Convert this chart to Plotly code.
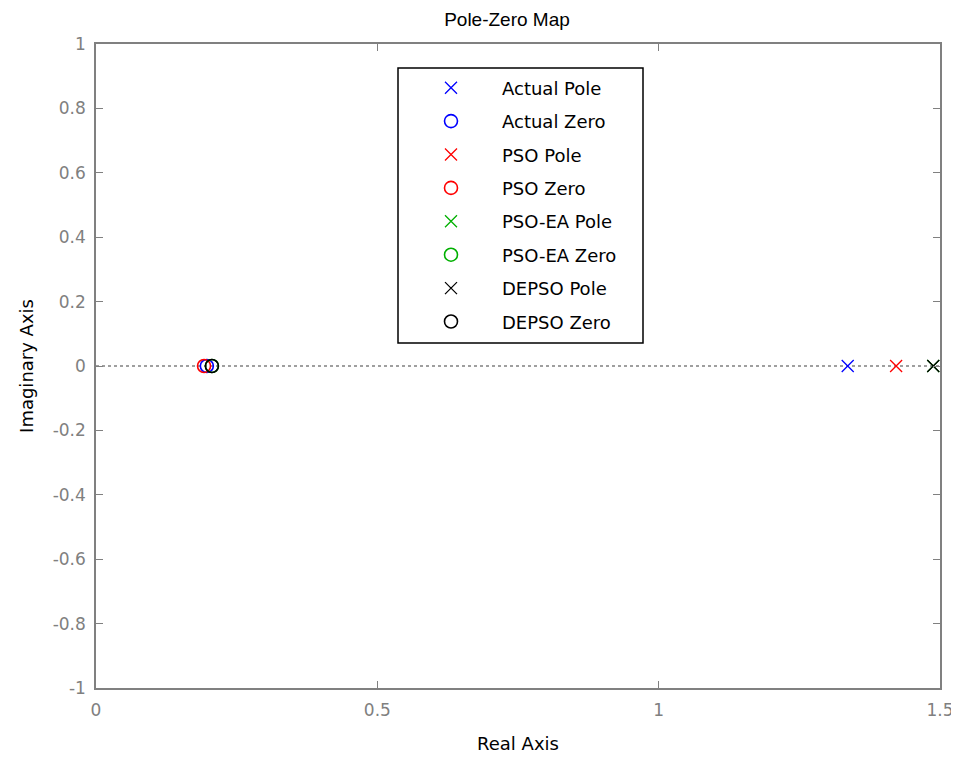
import plotly.graph_objects as go

# Data (real parts; all imaginary parts are 0)
series_names = ["Actual Pole", "Actual Zero", "PSO Pole", "PSO Zero",
                "PSO-EA Pole", "PSO-EA Zero", "DEPSO Pole", "DEPSO Zero"]
actual_pole_re = [1.336]
actual_zero_re = [0.197]
pso_pole_re = [1.422]
pso_zero_re = [0.192]
psoea_pole_re = [1.488]
psoea_zero_re = [0.206]
depso_pole_re = [1.488]
depso_zero_re = [0.206]
imag_part = [0.0]

x_ticks = [0, 0.5, 1, 1.5]
y_ticks = [-1, -0.8, -0.6, -0.4, -0.2, 0, 0.2, 0.4, 0.6, 0.8, 1]

series_re = [actual_pole_re, actual_zero_re, pso_pole_re, pso_zero_re,
             psoea_pole_re, psoea_zero_re, depso_pole_re, depso_zero_re]
colors = ["#0000ff", "#0000ff", "#ff0000", "#ff0000",
          "#00b000", "#00b000", "#000000", "#000000"]
symbols = ["x-thin-open", "circle-open"] * 4

FONT = "DejaVu Sans, sans-serif"
TITLE_FONT = "Liberation Sans, Arial, sans-serif"

# page body has an 8px margin, so the figure is sized to fit the window
W, H = 951, 750
L, T, PW, PH = 88, 36, 844, 644

# legend box edges in screenshot pixels (plot area spans x 96..940, y 44..688)
BOX_L, BOX_R, BOX_T, BOX_B = 398, 643, 68, 343


def px_to_paper_x(px):
    return (px - 96) / PW


def px_to_paper_y(py):
    return (688 - py) / PH


fig = go.Figure()
for i, (name, re) in enumerate(zip(series_names, series_re)):
    is_pole = symbols[i].startswith("x")
    fig.add_trace(go.Scatter(
        x=re, y=imag_part * len(re), mode="markers", name=name,
        legendgroup=f"g{i}",
        marker=dict(symbol=symbols[i], color=colors[i],
                    size=12 if is_pole else 13,
                    line=dict(color=colors[i], width=1.3 if is_pole else 1.6)),
    ))

# dotted real-axis reference line
fig.add_shape(type="line", xref="x", yref="y", x0=0, x1=1.5, y0=0, y1=0,
              line=dict(color="#808080", width=1.3, dash="dot"), layer="below")

# legend frame
fig.add_shape(type="rect", xref="paper", yref="paper",
              x0=px_to_paper_x(BOX_L), x1=px_to_paper_x(BOX_R),
              y0=px_to_paper_y(BOX_B), y1=px_to_paper_y(BOX_T),
              line=dict(color="#000000", width=1.5), fillcolor="white",
              layer="below")

axis_common = dict(
    showgrid=False, zeroline=False, showline=True, linecolor="#808080",
    linewidth=1.5, mirror="ticks", ticks="inside", ticklen=7,
    tickcolor="#808080", automargin=False,
    tickfont=dict(family=FONT, size=17, color="#808080"),
)

fig.update_layout(
    width=W, height=H,
    paper_bgcolor="white", plot_bgcolor="white",
    margin=dict(l=L, r=W - L - PW, t=T, b=H - T - PH),
    title=dict(text="Pole-Zero Map", x=(507 - 8) / W, xref="container",
               xanchor="center", y=1 - 11 / H, yanchor="middle",
               font=dict(family=TITLE_FONT, size=19, color="#000000")),
    xaxis=dict(range=[0, 1.5], tickvals=x_ticks,
               ticktext=[str(t) for t in x_ticks], ticklabelstandoff=6,
               title=dict(text="Real Axis", standoff=18,
                          font=dict(family=FONT, size=18, color="#000000")),
               **axis_common),
    yaxis=dict(range=[-1, 1], tickvals=y_ticks,
               ticktext=[("%g" % t) for t in y_ticks], ticklabelstandoff=5,
               title=dict(text="Imaginary Axis", standoff=14,
                          font=dict(family=FONT, size=18, color="#000000")),
               **axis_common),
    legend=dict(x=px_to_paper_x(BOX_L + 2), y=px_to_paper_y(BOX_T + 1.5),
                xanchor="left", yanchor="top",
                bgcolor="rgba(0,0,0,0)", borderwidth=0,
                tracegroupgap=7, itemwidth=92,
                font=dict(family=FONT, size=18, color="#000000")),
    showlegend=True,
)

fig.write_html("out.html")
